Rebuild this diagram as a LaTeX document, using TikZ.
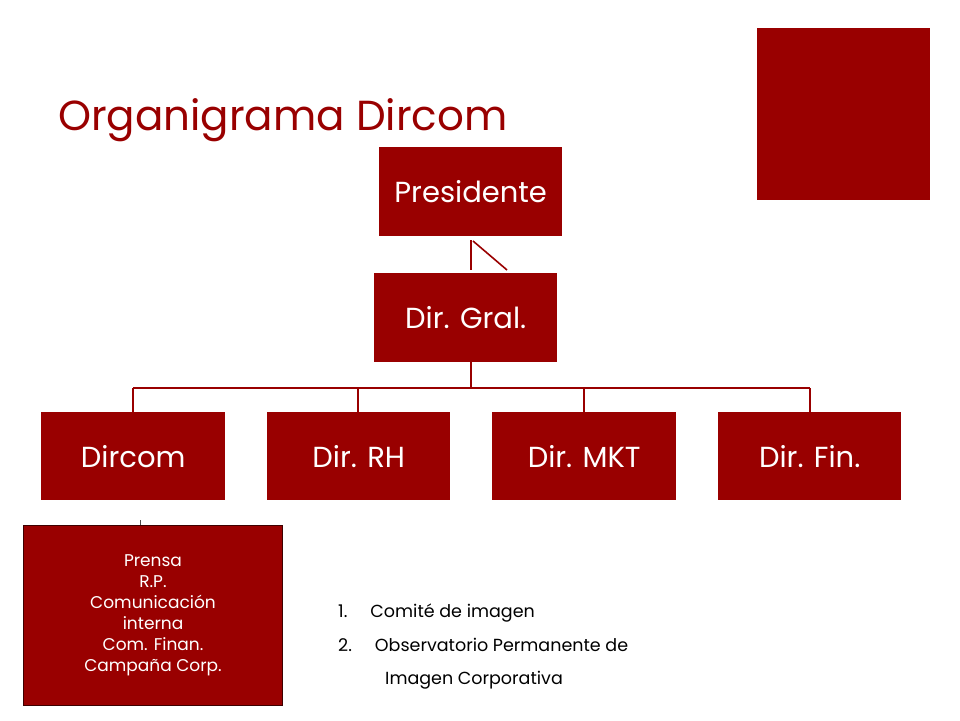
\documentclass[tikz,border=0pt]{standalone}
\usepackage{fontspec}
\setmainfont{Poppins}
\definecolor{dred}{HTML}{990000}
\begin{document}
\begin{tikzpicture}[x=1pt,y=-1pt,
  box/.style={fill=dred,text=white,inner sep=0,anchor=north west,font=\fontsize{29}{34}\selectfont},
  conn/.style={draw=dred,line width=2.2pt}]
\useasboundingbox (0,0) rectangle (960,720);
\fill[dred] (757,28) rectangle (930,200);
\node[anchor=base west,text=dred,inner sep=0,font=\fontsize{42}{48}\selectfont] (title) at (58,130) {Organigrama Dircom};
\node[box,minimum width=183,minimum height=89] (pres) at (379,147) {Presidente};
\node[box,minimum width=183,minimum height=89] (gral) at (374,273) {Dir. Gral.};
\node[box,minimum width=184,minimum height=88] (dircom) at (41,412) {Dircom};
\node[box,minimum width=183,minimum height=88] (rh) at (267,412) {Dir. RH};
\node[box,minimum width=184,minimum height=88] (mkt) at (492,412) {Dir. MKT};
\node[box,minimum width=183,minimum height=88] (fin) at (718,412) {Dir. Fin.};
\node[box,draw=black!60!dred,line width=1pt,minimum width=259,minimum height=180,align=center,font=\fontsize{17}{21}\selectfont] (prensa) at (23,525) {Prensa\\R.P.\\Comunicación\\interna\\Com. Finan.\\Campaña Corp.};
\coordinate (c1) at (471,240);
\coordinate (c2) at (471,270);
\coordinate (d1) at (473,241);
\coordinate (d2) at (507,270);
\draw[conn] (c1) -- (c2);
\draw[conn,line width=1.6pt] (d1) -- (d2);
\coordinate (bus) at (471,388);
\draw[conn] (gral.south -| bus) -- (bus);
\draw[conn] (133,388) -- (810,388);
\foreach \n/\x in {dircom/133,rh/358,mkt/584,fin/810}
  \draw[conn] (\x,388) -- (\x,412);
\draw[black!70,line width=0.6pt] (140,520) -- (prensa.north -| 140,0);
\node[anchor=north west,inner sep=0,align=left,font=\fontsize{17.5}{33.5}\selectfont] (list) at (338,604)
 {1.\hspace{23pt}Comité de imagen\\2.\hspace{23pt}Observatorio Permanente de\\\hspace{47pt}Imagen Corporativa};
\end{tikzpicture}
\end{document}
